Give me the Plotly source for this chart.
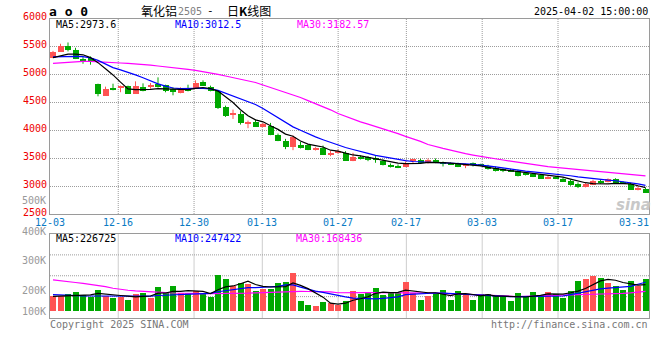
import plotly.graph_objects as go

# ---------------- data ----------------
dates = ["12-03","12-04","12-05","12-06","12-09","12-10","12-11","12-12","12-13","12-16",
         "12-17","12-18","12-19","12-20","12-23","12-24","12-25","12-26","12-27","12-30",
         "12-31","01-02","01-03","01-06","01-07","01-08","01-09","01-10","01-13","01-14",
         "01-15","01-16","01-17","01-20","01-21","01-22","01-23","01-24","01-27","02-05",
         "02-06","02-07","02-10","02-11","02-12","02-13","02-14","02-17","02-18","02-19",
         "02-20","02-21","02-24","02-25","02-26","02-27","02-28","03-03","03-04","03-05",
         "03-06","03-07","03-10","03-11","03-12","03-13","03-14","03-17","03-18","03-19",
         "03-20","03-21","03-24","03-25","03-26","03-27","03-28","03-31","04-01","04-02"]

opens = [5304,5411,5518,5452,5280,5310,4833,4625,4762,4756, 4798,4649,4774,4786,4839,4815,4750,4673,4762,4750,
         4881,4780,4714,4429,4304,4298,4131,4155,4071,4083, 3929,3821,3702,3750,3738,3649,3685,3577,3607,3607,
         3464,3536,3524,3500,3464,3381,3375,3357,3464,3476, 3417,3482,3417,3411,3411,3369,3399,3387,3369,3339,
         3295,3304,3274,3220,3220,3202,3143,3161,3137,3101, 3054,2994,3036,3087,3077,3131,3070,3054,2946,2964]
highs = [5420,5548,5571,5476,5310,5321,4833,4780,4833,4800, 4798,4875,4839,4845,4946,4815,4768,4768,4815,4893,
         4893,4798,4720,4440,4369,4340,4173,4190,4131,4131, 3940,3845,3905,3792,3750,3696,3726,3631,3655,3625,
         3595,3548,3536,3536,3476,3405,3387,3440,3488,3488, 3494,3494,3440,3423,3417,3399,3423,3399,3381,3351,
         3320,3310,3292,3240,3232,3214,3190,3173,3150,3113, 3066,3054,3113,3113,3137,3140,3085,3060,3006,2970]
lows = [5290,5400,5411,5274,5190,5173,4607,4625,4714,4680, 4649,4649,4696,4744,4762,4679,4625,4661,4696,4738,
        4792,4696,4381,4238,4202,4101,4036,4060,4060,3911, 3804,3661,3643,3673,3643,3637,3560,3535,3583,3458,
        3446,3476,3446,3417,3369,3333,3321,3345,3405,3405, 3405,3411,3351,3381,3339,3321,3351,3357,3292,3262,
        3250,3262,3173,3190,3161,3137,3125,3125,3077,3006, 2964,2976,3018,3042,3066,3060,3040,2940,2923,2880]
closes = [5411,5518,5440,5292,5244,5250,4655,4750,4726,4798, 4661,4798,4714,4798,4780,4708,4690,4756,4714,4857,
          4798,4708,4411,4262,4310,4143,4143,4071,4119,3923, 3821,3702,3893,3690,3655,3685,3571,3607,3619,3464,
          3524,3488,3476,3488,3387,3369,3333,3429,3476,3417, 3482,3423,3411,3405,3351,3393,3393,3375,3321,3280,
          3290,3274,3190,3214,3173,3143,3173,3150,3083,3024, 2994,3042,3095,3080,3131,3066,3054,2946,2976,2887]

ma5 = [5300,5335,5363,5363,5350,5300,5210,5100,4990,4860, 4740,4726,4726,4730,4745,4738,4735,4730,4726,4750,
       4765,4745,4700,4600,4495,4367,4260,4185,4150,4080, 4015,3930,3892,3806,3752,3725,3699,3642,3627,3589,
       3557,3540,3514,3488,3473,3442,3411,3401,3399,3405, 3423,3425,3418,3410,3400,3390,3380,3360,3335,3310,
       3295,3275,3258,3240,3225,3205,3190,3175,3160,3125, 3090,3060,3045,3040,3040,3050,3050,3040,3005,2973.6]
ma10 = [5312,5318,5321,5321,5318,5295,5250,5185,5120,5080, 5040,4990,4940,4880,4830,4790,4756,4745,4740,4748,
        4750,4740,4714,4665,4615,4565,4510,4460,4390,4310, 4230,4145,4060,4000,3935,3880,3830,3780,3730,3690,
        3655,3625,3585,3550,3525,3500,3475,3455,3440,3432, 3425,3415,3412,3408,3402,3396,3390,3381,3362,3343,
        3322,3300,3284,3268,3255,3243,3230,3218,3203,3185, 3165,3148,3130,3118,3105,3095,3080,3065,3040,3012.5]
ma30 = [5195,5205,5220,5228,5232,5232,5228,5222,5212,5203, 5196,5188,5178,5165,5150,5138,5127,5110,5090,5072,
        5050,5020,5000,4970,4940,4915,4885,4855,4810,4765, 4720,4680,4637,4585,4530,4475,4425,4365,4298,4245,
        4190,4150,4110,4070,4030,3985,3940,3890,3850,3800, 3745,3705,3675,3645,3610,3580,3555,3530,3510,3490,
        3467,3447,3425,3403,3385,3365,3348,3333,3320,3307, 3294,3280,3266,3252,3238,3228,3218,3208,3195,3182.57]

vol_k = [125,125,145,163,139,122,180,128,110,122, 96,145,154,113,206,154,215,151,151,174,
         148,122,313,276,218,241,235,171,192,192, 241,250,328,87,52,43,78,67,50,87,
         171,145,154,200,137,154,151,250,154,96, 128,154,183,96,171,139,96,145,145,128,
         116,87,154,116,163,137,163,145,113,171, 258,279,305,284,241,215,180,258,218,276]
vma5_k = [125,127,130,131,139,138,150,146,136,132, 127,120,125,128,152,154,168,168,175,169,
          168,149,182,207,215,234,257,228,211,206, 206,209,241,220,192,152,118,65,58,65,
          91,104,121,151,161,158,159,178,169,161, 156,156,143,131,146,149,141,129,139,126,
          126,124,126,119,127,133,147,145,144,156, 170,193,225,259,273,265,245,236,222,226.725]
vma10_k = [139,135,132,130,129,128,127,126,125,126, 125,124,124,126,132,134,137,140,143,148,
           150,151,165,175,185,192,200,200,202,205, 212,225,224,205,185,170,160,145,130,120,
           110,108,100,103,108,113,120,140,145,150, 155,154,152,148,145,142,138,133,130,127,
           125,122,122,123,124,126,126,127,128,140, 152,165,180,190,196,200,205,212,230,247.422]
vma30_k = [268,262,255,245,237,228,220,210,195,185, 178,172,167,164,162,158,154,151,149,148,
           148,148,148,149,150,151,152,155,158,161, 163,166,169,168,167,166,165,163,156,155,
           156,157,158,158,158,158,158,158,157,156, 155,153,150,147,143,139,136,132,129,126,
           124,122,123,125,128,129,131,133,135,138, 140,141,142,144,146,148,151,155,161,168.436]

price_ticks = [2500, 3000, 3500, 4000, 4500, 5000, 5500, 6000]
vol_labels = ["500K", "400K", "300K", "200K", "100K"]
date_labels = ["12-03", "12-16", "12-30", "01-13", "01-27", "02-17", "03-03", "03-17", "03-31"]
grid_dates = ["12-16", "12-30", "01-13", "01-27", "02-17", "03-03", "03-17"]

# ---------------- layout constants ----------------
W, H = 660, 360
L_PX, R_PX = 50, 649
P_TOP, P_BOT = 18.5, 214
V_TOP, V_BOT = 234, 317.5
STEP = 7.5            # pixel pitch of one candle
FIRST = 3.0           # centre of first candle from left border
RED, GREEN = "#ff5353", "#00a800"
BLUE, MAG = "#0000ff", "#ff00ff"
GRID = "#9c9c9c"
GRID_DASH = "1px,1px"
BORDER = "#9a9a9a"
MONO = "DejaVu Sans Mono"
CJK = "Noto Sans CJK SC"

n = len(dates)
idx = list(range(n))
x_lo = -FIRST / STEP
x_hi = x_lo + (R_PX - L_PX) / STEP
grid_scale = (R_PX - L_PX) / (n - 1) / STEP
def date_x(i):
    return x_lo + i * grid_scale

up = [c >= o for o, c in zip(opens, closes)]
colors = [RED if u else GREEN for u in up]

min_h = 18
body_h, body_base = [], []
for o, c in zip(opens, closes):
    h = abs(c - o)
    hh = max(h, min_h)
    body_h.append(hh)
    body_base.append(min(o, c) - (hh - h) / 2)

def wick_xy(flag):
    xs, ys = [], []
    for i in idx:
        if up[i] == flag:
            xs += [i, i, None]
            ys += [lows[i], highs[i], None]
    return xs, ys

fig = go.Figure()

for flag, col in ((True, RED), (False, GREEN)):
    wx, wy = wick_xy(flag)
    fig.add_trace(go.Scatter(x=wx, y=wy, mode="lines", line=dict(color=col, width=1),
                             hoverinfo="skip", showlegend=False, xaxis="x", yaxis="y"))

fig.add_trace(go.Bar(x=idx, y=body_h, base=body_base, width=0.8, marker=dict(color=colors, line=dict(width=0)),
                     showlegend=False, xaxis="x", yaxis="y"))

for series, col in ((ma30, MAG), (ma10, BLUE), (ma5, "#000000")):
    fig.add_trace(go.Scatter(x=idx, y=series, mode="lines", line=dict(color=col, width=1.2),
                             showlegend=False, xaxis="x", yaxis="y"))

vol = [v * 1000 for v in vol_k]
fig.add_trace(go.Bar(x=idx, y=vol, width=0.8, marker=dict(color=colors, line=dict(width=0)),
                     showlegend=False, xaxis="x2", yaxis="y2"))
for series, col in ((vma30_k, MAG), (vma10_k, BLUE), (vma5_k, "#000000")):
    fig.add_trace(go.Scatter(x=idx, y=[v * 1000 for v in series], mode="lines",
                             line=dict(color=col, width=1.2), showlegend=False, xaxis="x2", yaxis="y2"))

dom_x = [L_PX / W, R_PX / W]
p_dom = [1 - P_BOT / H, 1 - P_TOP / H]
v_dom = [1 - V_BOT / H, 1 - V_TOP / H]
v_px_per = 11.5 / 100000.0
v_base_px = 310.7
v_lo = -(V_BOT - v_base_px) / v_px_per
v_hi = (v_base_px - V_TOP) / v_px_per

box = dict(showline=True, mirror=True, linecolor=BORDER, linewidth=1, zeroline=False, automargin=False)

fig.update_layout(
    width=W, height=H, margin=dict(l=0, r=0, t=0, b=0, pad=0, autoexpand=False), autosize=False,
    paper_bgcolor="white", plot_bgcolor="white", barmode="overlay", bargap=0,
    showlegend=False,
    xaxis=dict(domain=dom_x, range=[x_lo, x_hi], anchor="y", showgrid=False,
               showticklabels=False, ticks="", **box),
    yaxis=dict(domain=p_dom, range=[2500, 6000], anchor="x", tickmode="array", tickvals=price_ticks,
               ticktext=[str(t) for t in price_ticks], showgrid=True, gridcolor=GRID,
               griddash=GRID_DASH, gridwidth=1, ticks="", ticklabelshift=-2,
               tickfont=dict(family=MONO, size=10, color="#ee0000"), **box),
    xaxis2=dict(domain=dom_x, range=[x_lo, x_hi], anchor="y2", showgrid=False,
                showticklabels=False, ticks="", **box),
    yaxis2=dict(domain=v_dom, range=[v_lo, v_hi], anchor="x2", showgrid=False,
                showticklabels=False, ticks="", **box),
)

shapes = []
for d in grid_dates:
    gx = date_x(dates.index(d))
    for xr, yr in (("x", "y domain"), ("x2", "y2 domain")):
        shapes.append(dict(type="line", xref=xr, yref=yr, x0=gx, x1=gx, y0=0, y1=1,
                           line=dict(color=GRID, width=1, dash=GRID_DASH), layer="below"))
for frac in (0.25, 0.5, 0.75):
    shapes.append(dict(type="line", xref="x2 domain", yref="y2 domain", x0=0, x1=1, y0=frac, y1=frac,
                       line=dict(color=GRID, width=1, dash=GRID_DASH), layer="below"))

def ann(text, x, y, color="#000000", size=10, xanchor="left", family=MONO, xref="paper"):
    xx = x / W if xref == "paper" else x
    return dict(xref=xref, yref="paper", x=xx, y=1 - y / H, text=text, showarrow=False,
                xanchor=xanchor, yanchor="middle", font=dict(family=family, size=size, color=color),
                borderpad=0)

anns = []
# date labels between the panels
for d in date_labels:
    anns.append(ann(d, date_x(dates.index(d)), 222, color="#0a7ac4", xanchor="center", xref="x"))
anns.append(ann("<b>a o 0</b>", 48, 11, size=13, family=MONO))
anns.append(ann("氧化铝", 140, 10.5, size=12, family=CJK))
anns.append(ann("2505", 177, 11.5, size=10, color="#808080", family=MONO))
anns.append(ann("-", 210, 10.5, size=11, family=MONO, xanchor="center"))
anns.append(ann("日<b>K</b>线图", 226, 10.5, size=12, family=CJK))
anns.append(ann("2025-04-02 15:00:00", 649, 11, xanchor="right"))
anns.append(ann(f"MA5:{ma5[-1]}", 55, 24.5))
anns.append(ann(f"MA10:{ma10[-1]}", 174, 24.5, color=BLUE))
anns.append(ann(f"MA30:{ma30[-1]}", 296, 24.5, color=MAG))
anns.append(ann(f"MA5:{round(vma5_k[-1] * 1000)}", 55, 238))
anns.append(ann(f"MA10:{round(vma10_k[-1] * 1000)}", 174, 238, color=BLUE))
anns.append(ann(f"MA30:{round(vma30_k[-1] * 1000)}", 295, 238, color=MAG))
for lab, yy in zip(vol_labels, [200, 231, 260, 290, 311]):
    anns.append(ann(lab, 47, yy, color="#999999", xanchor="right"))
anns.append(ann("Copyright 2025 SINA.COM", 49, 324, color="#777777"))
anns.append(ann("http://finance.sina.com.cn", 649, 324, color="#777777", xanchor="right"))
anns.append(ann("<b><i>sina</i></b>", 652, 205, color="#c8c8c8", size=15, xanchor="right",
                family="DejaVu Sans"))
fig.update_layout(annotations=anns, shapes=shapes)

fig.write_html("out.html", config={"displayModeBar": False, "responsive": False},
               post_script="document.body.style.margin='0px';document.body.style.padding='0px';")
